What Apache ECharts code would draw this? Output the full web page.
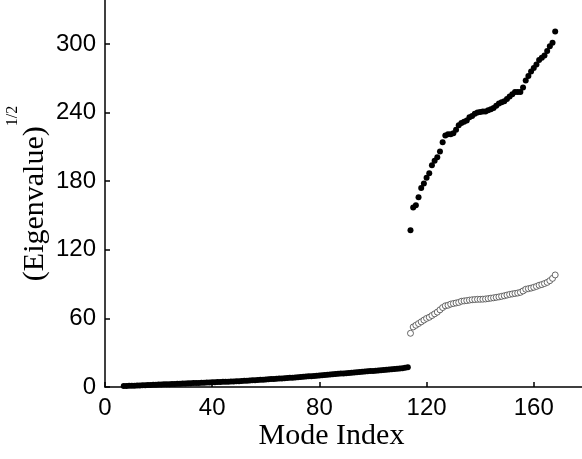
<!DOCTYPE html>
<html>
<head>
<meta charset="utf-8">
<script src="https://cdn.jsdelivr.net/npm/echarts@6/dist/echarts.min.js"></script>
<style>
html,body{margin:0;padding:0;background:#fff;}
#chart{width:582px;height:459px;}
</style>
</head>
<body>
<div id="chart"></div>
<script>
// ---- data ----
const xTicks = [0, 40, 80, 120, 160];
const yTicks = [0, 60, 120, 180, 240, 300];

// low-frequency filled points, modes 7..113
const lowStart = 7;
const lowValues = [
  0.8, 0.9, 1.0, 1.1, 1.2, 1.3, 1.4, 1.5, 1.6, 1.7,
  1.8, 1.9, 2.0, 2.1, 2.2, 2.3, 2.4, 2.5, 2.6, 2.7,
  2.8, 2.9, 3.0, 3.1, 3.2, 3.3, 3.4, 3.5, 3.6, 3.7,
  3.8, 3.9, 4.0, 4.1, 4.2, 4.3, 4.4, 4.5, 4.6, 4.7,
  4.8, 4.9, 5.0, 5.1, 5.3, 5.4, 5.5, 5.7, 5.8, 6.0,
  6.1, 6.3, 6.4, 6.6, 6.7, 6.9, 7.0, 7.2, 7.4, 7.5,
  7.7, 7.9, 8.1, 8.2, 8.4, 8.6, 8.8, 9.0, 9.1, 9.3,
  9.5, 9.7, 9.9, 10.1, 10.3, 10.5, 10.7, 10.9, 11.1, 11.3,
  11.5, 11.7, 11.9, 12.1, 12.3, 12.5, 12.7, 12.9, 13.1, 13.3,
  13.5, 13.7, 13.9, 14.1, 14.3, 14.5, 14.7, 14.9, 15.1, 15.3,
  15.5, 15.7, 15.9, 16.1, 16.4, 16.8, 17.3
];

// high-frequency filled points, modes 114..168
const highStart = 114;
const highFilled = [
  137, 157, 159, 166, 174, 178, 183, 187, 194, 198,
  201, 206, 214, 220, 221, 221, 222, 225, 229, 231,
  232, 233, 236, 237, 239, 240, 240.5, 241, 241, 242,
  243, 244, 246, 248, 249, 250, 252, 254, 256, 258,
  258, 258, 262, 268, 272, 276, 279, 282, 286, 288,
  290, 294, 298, 301, 311
];

// high-frequency open points, modes 114..168
const highOpen = [
  47, 52.5, 54, 55.5, 57, 58.5, 60, 61, 62.5, 64,
  65.5, 67.5, 69.5, 71, 71.5, 72.5, 73, 73.5, 74, 75,
  75.3, 75.6, 76, 76.3, 76.5, 76.7, 76.7, 76.8, 77, 77.3,
  77.7, 78, 78.4, 78.8, 79.3, 79.8, 80.4, 81, 81.4, 81.8,
  82.2, 82.8, 84, 85.5, 86, 86.5, 87.2, 88, 89, 89.6,
  90.5, 91.5, 93, 95, 98
];

function pairs(start, vals) {
  return vals.map((v, i) => [start + i, v]);
}

const chart = echarts.init(document.getElementById('chart'), null, {renderer: 'canvas'});
const axisLineStyle = {color: '#000', width: 1.5};
chart.setOption({
  animation: false,
  backgroundColor: '#fff',
  grid: {left: 105, right: 0, top: 0, bottom: 72, containLabel: false, outerBoundsMode: 'none'},
  xAxis: {
    type: 'value', min: 0, max: 178,
    axisLine: {show: true, onZero: false, lineStyle: axisLineStyle},
    axisTick: {show: true, inside: true, length: 5, lineStyle: axisLineStyle, customValues: xTicks},
    axisLabel: {color: '#000', fontFamily: 'Liberation Sans', fontSize: 24, margin: 9, customValues: xTicks},
    splitLine: {show: false},
    name: 'Mode Index',
    nameLocation: 'middle',
    nameGap: 34,
    nameMoveOverlap: false,
    nameTextStyle: {color: '#000', fontFamily: 'Liberation Serif', fontSize: 30, padding: [0, 24, 0, 0]}
  },
  yAxis: {
    type: 'value', min: 0, max: 338.5,
    axisLine: {show: true, onZero: false, lineStyle: axisLineStyle},
    axisTick: {show: true, inside: true, length: 5, lineStyle: axisLineStyle, customValues: yTicks},
    axisLabel: {color: '#000', fontFamily: 'Liberation Sans', fontSize: 24, margin: 9, customValues: yTicks},
    splitLine: {show: false},
    name: '(Eigenvalue){sup|1/2}',
    nameLocation: 'middle',
    nameRotate: 90,
    nameGap: 40,
    nameMoveOverlap: false,
    nameTextStyle: {
      color: '#000', fontFamily: 'Liberation Serif', fontSize: 30, lineHeight: 60,
      rich: {sup: {fontFamily: 'Liberation Serif', fontSize: 16, color: '#000', verticalAlign: 'top', lineHeight: 22}}
    }
  },
  series: [
    {
      type: 'scatter', name: 'low', data: pairs(lowStart, lowValues),
      symbol: 'circle', symbolSize: 6,
      itemStyle: {color: '#000', opacity: 1}
    },
    {
      type: 'scatter', name: 'highFilled', data: pairs(highStart, highFilled),
      symbol: 'circle', symbolSize: 6,
      itemStyle: {color: '#000', opacity: 1}
    },
    {
      type: 'scatter', name: 'highOpen', data: pairs(highStart, highOpen),
      symbol: 'circle', symbolSize: 6,
      itemStyle: {color: '#fff', borderColor: '#444', borderWidth: 0.8, opacity: 1}
    }
  ]
});
</script>
</body>
</html>
